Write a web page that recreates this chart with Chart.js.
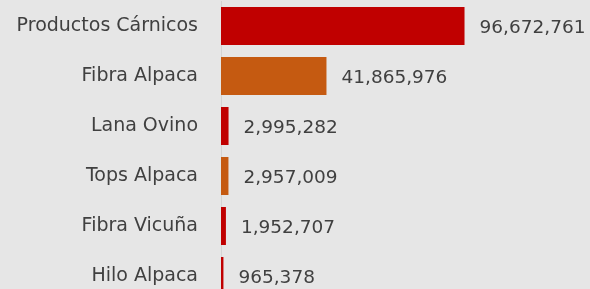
<!DOCTYPE html>
<html>
<head>
<meta charset="utf-8">
<script src="https://cdn.jsdelivr.net/npm/chart.js@4"></script>
<style>
  html, body { margin:0; padding:0; background:#e6e6e6; overflow:hidden; }
  canvas { display:block; }
</style>
</head>
<body>
<canvas id="chart" width="590" height="301"></canvas>
<script>
// ---- Data ----
const categories = ['Productos Cárnicos','Fibra Alpaca','Lana Ovino','Tops Alpaca','Fibra Vicuña','Hilo Alpaca'];
const values = [96672761, 41865976, 2995282, 2957009, 1952707, 965378];
const barColors = ['#c00000','#c55a11','#c00000','#c55a11','#c00000','#c00000'];

// ---- Value labels at bar ends ----
const valueLabels = {
  id:'valueLabels',
  afterDatasetsDraw(chart){
    const ctx = chart.ctx;
    const meta = chart.getDatasetMeta(0);
    ctx.save();
    ctx.font = '18.5px "DejaVu Sans"';
    ctx.fillStyle = '#404040';
    ctx.textAlign = 'left';
    ctx.textBaseline = 'middle';
    meta.data.forEach((bar,i)=>{
      ctx.fillText(values[i].toLocaleString('en-US'), bar.x + 15, bar.y + 2);
    });
    ctx.restore();
  }
};

new Chart(document.getElementById('chart'), {
  type:'bar',
  data:{
    labels:categories,
    datasets:[{ data:values, backgroundColor:barColors, barPercentage:0.76, categoryPercentage:1 }]
  },
  options:{
    indexAxis:'y',
    responsive:false,
    animation:false,
    layout:{ padding:{ top:1, bottom:0, left:0, right:5 } },
    plugins:{ legend:{display:false}, tooltip:{enabled:false} },
    scales:{
      x:{ display:false, min:0, max:144500000 },
      y:{
        grid:{ display:false },
        border:{ display:true, color:'#d4d4d4', width:1 },
        ticks:{ color:'#404040', font:{ family:'DejaVu Sans', size:19 }, padding:15 },
        afterFit(scale){ scale.width = 221; scale.paddingTop = 0; scale.paddingBottom = 0; }
      }
    }
  },
  plugins:[valueLabels]
});
</script>
</body>
</html>
